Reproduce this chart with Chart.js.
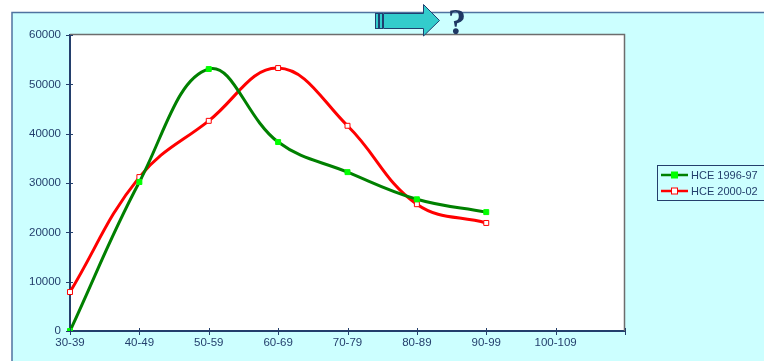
<!DOCTYPE html>
<html>
<head>
<meta charset="utf-8">
<script src="https://cdn.jsdelivr.net/npm/chart.js@4/dist/chart.umd.min.js"></script>
<style>
  html, body { margin: 0; padding: 0; background: #ffffff; }
  #wrap { width: 764px; height: 361px; position: relative; }
</style>
</head>
<body>
<div id="wrap"><canvas id="ageChart" width="764" height="361"></canvas></div>
<script>
// age groups (last empty slot keeps the axis running to the right border)
const ageGroups = ["30-39", "40-49", "50-59", "60-69", "70-79", "80-89", "90-99", "100-109", ""];
const hce1996 = [0, 30200, 53100, 38300, 32200, 26700, 24100];
const hce2000 = [7900, 31200, 42600, 53300, 41600, 25700, 21900];
const seriesNames = ["HCE 1996-97", "HCE 2000-02"];
const yTicks = [0, 10000, 20000, 30000, 40000, 50000, 60000];

const ink = "#233f6c";
const font = "'Liberation Sans', Arial, sans-serif";

// background panel, plot area frame, arrow + "?" and legend
const decor = {
  id: "decor",
  beforeDraw(chart) {
    const c = chart.ctx;
    const a = chart.chartArea;
    c.save();
    c.fillStyle = "#ccffff";
    c.fillRect(12, 12, chart.width - 12, chart.height - 12);
    c.strokeStyle = "#4f73a0";
    c.lineWidth = 1.5;
    c.beginPath();
    c.moveTo(12, chart.height);
    c.lineTo(12, 12.5);
    c.lineTo(chart.width, 12.5);
    c.stroke();
    c.fillStyle = "#ffffff";
    c.fillRect(a.left, a.top, a.right - a.left, a.bottom - a.top);
    c.restore();
  },
  afterDraw(chart) {
    const c = chart.ctx;
    const a = chart.chartArea;
    c.save();
    // frame top/right
    c.strokeStyle = "#6d6d6d";
    c.lineWidth = 1.5;
    c.beginPath();
    c.moveTo(a.left, a.top - 0.5);
    c.lineTo(a.right - 0.5, a.top - 0.5);
    c.lineTo(a.right - 0.5, a.bottom);
    c.stroke();

    // ticks crossing the axes
    c.strokeStyle = ink;
    c.lineWidth = 1;
    const ys = chart.scales.y, xs = chart.scales.x;
    yTicks.forEach(v => {
      const y = Math.round(ys.getPixelForValue(v)) + 0.5;
      c.beginPath(); c.moveTo(a.left - 4, y); c.lineTo(a.left + 3, y); c.stroke();
    });
    ageGroups.forEach((g, i) => {
      const x = Math.round(xs.getPixelForValue(i)) + 0.5;
      c.beginPath(); c.moveTo(x, a.bottom - 3); c.lineTo(x, a.bottom + 4); c.stroke();
    });

    // arrow
    c.fillStyle = "#33cccc";
    c.strokeStyle = "#1f3f6f";
    c.lineWidth = 1;
    c.fillRect(375.5, 13.5, 3, 15); c.strokeRect(375.5, 13.5, 3, 15);
    c.fillRect(379.5, 13.5, 3, 15); c.strokeRect(379.5, 13.5, 3, 15);
    c.beginPath();
    c.moveTo(383.5, 13.5);
    c.lineTo(423.5, 13.5);
    c.lineTo(423.5, 4.5);
    c.lineTo(439.5, 20.5);
    c.lineTo(423.5, 36);
    c.lineTo(423.5, 28.5);
    c.lineTo(383.5, 28.5);
    c.closePath();
    c.fill(); c.stroke();
    c.fillStyle = "#1f3864";
    c.font = "bold 36px 'Liberation Serif', 'DejaVu Serif', serif";
    c.textAlign = "left";
    c.textBaseline = "alphabetic";
    c.fillText("?", 448, 34);

    // legend
    c.fillStyle = "#ccffff";
    c.strokeStyle = ink;
    c.lineWidth = 1;
    c.strokeRect(657.5, 165.5, 120, 35);
    const items = [
      { label: seriesNames[0], line: "#008000", fill: "#00ff00", stroke: "#00ff00", y: 175 },
      { label: seriesNames[1], line: "#ff0000", fill: "#ffffff", stroke: "#ff0000", y: 191 }
    ];
    items.forEach(it => {
      c.strokeStyle = it.line;
      c.lineWidth = 2.5;
      c.beginPath(); c.moveTo(661, it.y); c.lineTo(688, it.y); c.stroke();
      c.fillStyle = it.fill;
      c.fillRect(671.5, it.y - 3, 6, 6);
      c.strokeStyle = it.stroke;
      c.lineWidth = 1;
      c.strokeRect(671.5, it.y - 3, 6, 6);
      c.fillStyle = ink;
      c.font = "11px " + font;
      c.textBaseline = "middle";
      c.fillText(it.label, 691, it.y + 0.5);
    });
    c.restore();
  }
};

new Chart(document.getElementById("ageChart"), {
  type: "line",
  data: {
    labels: ageGroups,
    datasets: [
      {
        label: seriesNames[0],
        data: hce1996,
        borderColor: "#008000",
        borderWidth: 3,
        tension: 0.4,
        pointStyle: "rect",
        pointRadius: 3.5,
        pointBackgroundColor: "#00ff00",
        pointBorderColor: "#00ff00",
        pointBorderWidth: 1
      },
      {
        label: seriesNames[1],
        data: hce2000,
        borderColor: "#ff0000",
        borderWidth: 3,
        tension: 0.4,
        pointStyle: "rect",
        pointRadius: 3.5,
        pointBackgroundColor: "#ffffff",
        pointBorderColor: "#ff0000",
        pointBorderWidth: 1
      }
    ]
  },
  options: {
    responsive: false,
    animation: false,
    events: [],
    layout: { padding: { left: 0, top: 35, right: 139, bottom: 0 } },
    plugins: { legend: { display: false }, tooltip: { enabled: false } },
    scales: {
      x: {
        offset: false,
        afterFit: s => { s.height = 30; },
        grid: { display: false, drawTicks: false },
        border: { color: ink, width: 2 },
        ticks: { color: ink, font: { family: font, size: 11.5 }, padding: 5, maxRotation: 0, autoSkip: false }
      },
      y: {
        min: 0,
        max: 60000,
        afterFit: s => { s.width = 70; },
        afterBuildTicks: s => { s.ticks = yTicks.map(v => ({ value: v })); },
        grid: { display: false, drawTicks: false },
        border: { color: ink, width: 2 },
        ticks: { color: ink, font: { family: font, size: 11.5 }, padding: 9, callback: v => String(v) }
      }
    }
  },
  plugins: [decor]
});
</script>
</body>
</html>
